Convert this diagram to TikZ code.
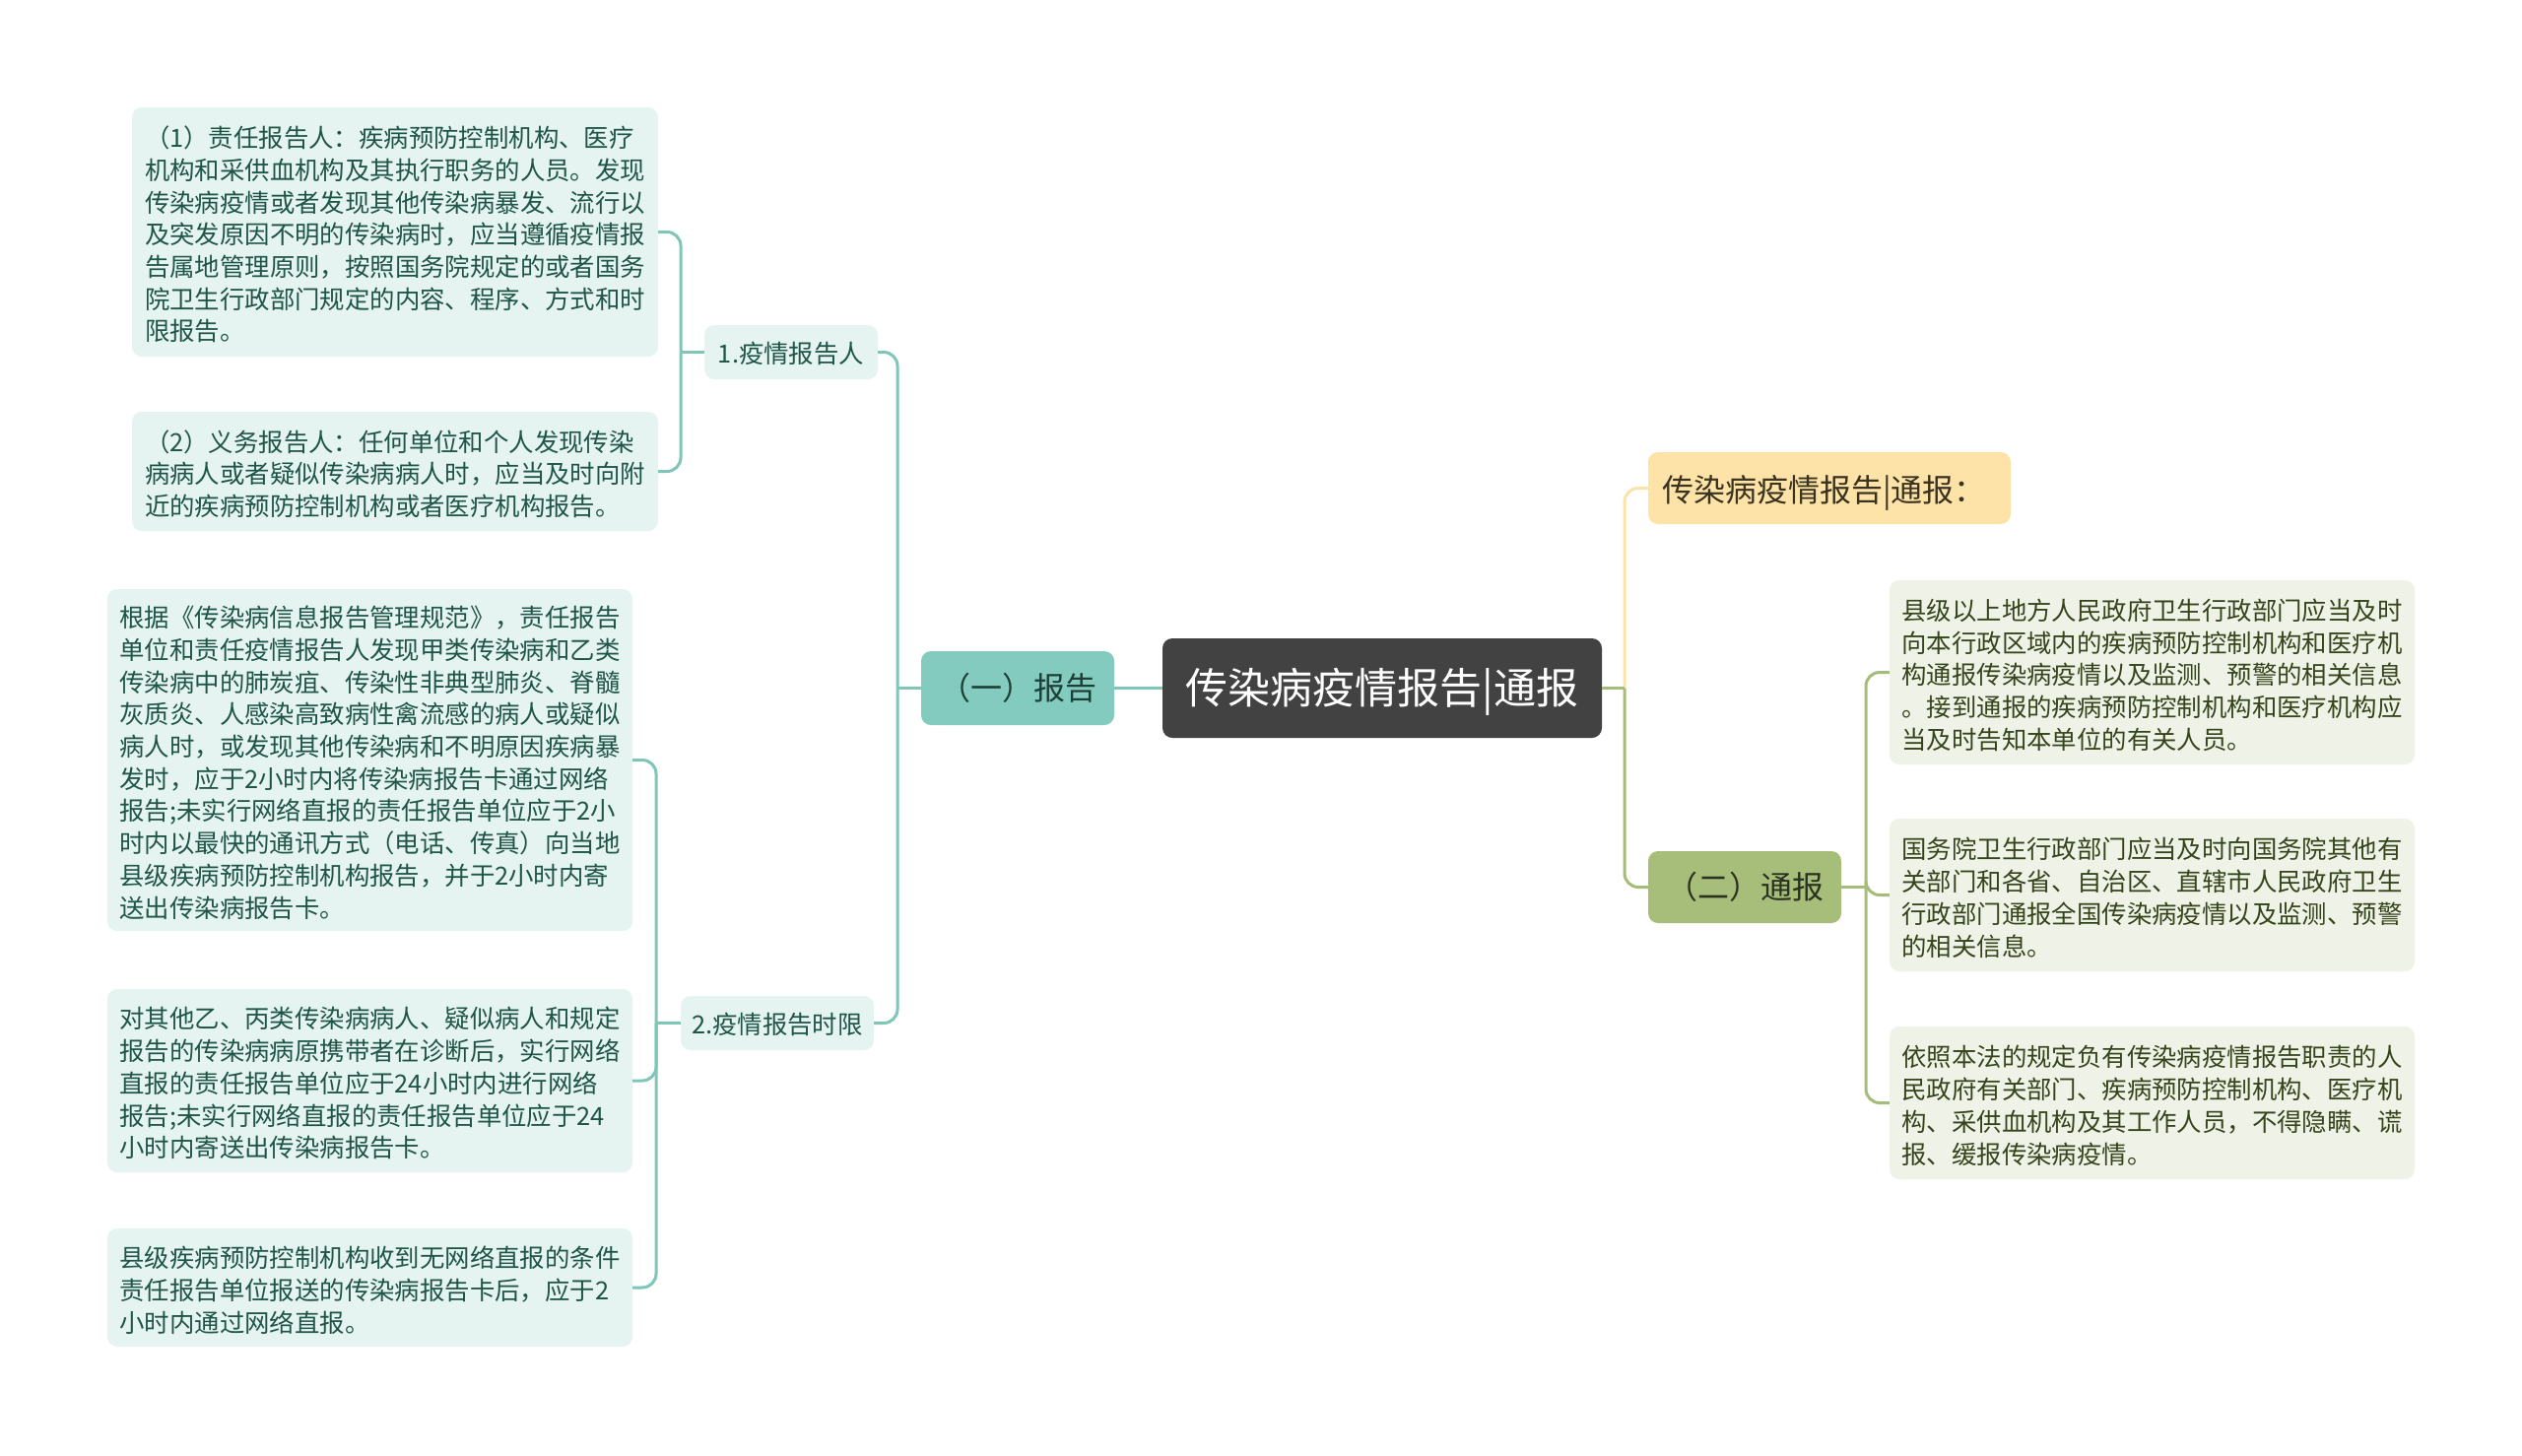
\documentclass[tikz,border=0pt]{standalone}
\usepackage{fontspec}
\setmainfont{Noto Sans CJK SC}
\usetikzlibrary{calc}
\definecolor{tealline}{HTML}{7FC6B8}
\definecolor{leafLfill}{HTML}{E5F4F0}
\definecolor{leafLtext}{HTML}{1F5548}
\definecolor{bOnefill}{HTML}{82CBBE}
\definecolor{bOnetext}{HTML}{1E3F38}
\definecolor{rootfill}{HTML}{424242}
\definecolor{headfill}{HTML}{FDE3A7}
\definecolor{headtext}{HTML}{3A3320}
\definecolor{yelline}{HTML}{FCE3AA}
\definecolor{bTwofill}{HTML}{A6BE7A}
\definecolor{bTwotext}{HTML}{2B3320}
\definecolor{leafRfill}{HTML}{EFF2E6}
\definecolor{leafRtext}{HTML}{36441C}
\definecolor{greenline}{HTML}{A5BD78}
\newcommand\lup{\rule{0pt}{27pt}}
\begin{document}
\begin{tikzpicture}[x=1pt,y=-1pt,
  leafL/.style={fill=leafLfill, rounded corners=10pt, text=leafLtext,
    font=\fontsize{25.4}{32.7}\selectfont, align=left, inner xsep=12pt, inner ysep=0pt, minimum width=534pt},
  leafR/.style={fill=leafRfill, rounded corners=10pt, text=leafRtext,
    font=\fontsize{25.4}{32.7}\selectfont, align=left, inner xsep=12pt, inner ysep=0pt, minimum width=533pt},
  subL/.style={fill=leafLfill, rounded corners=10pt, text=leafLtext,
    font=\fontsize{25.4}{30}\selectfont, inner sep=0pt, minimum height=55pt},
  mainbox/.style={rounded corners=10pt, font=\fontsize{32}{36}\selectfont, inner sep=0pt, minimum height=75pt, minimum width=196pt},
  lineT/.style={draw=tealline, line width=3pt},
  lineG/.style={draw=greenline, line width=3pt},
  lineY/.style={draw=yelline, line width=3pt},
  rc/.style={rounded corners=14pt}
]
\useasboundingbox[fill=white] (0,0) rectangle (2560,1478);

% root
\node[fill=rootfill, rounded corners=10pt, text=white, font=\fontsize{43}{48}\selectfont,
  minimum width=446pt, minimum height=101pt, inner sep=0pt] (root) at (1403,698.5) {\rule{0pt}{44pt}传染病疫情报告|通报};

% left branch
\node[mainbox, fill=bOnefill, text=bOnetext] (B1) at (1033,698.5) {（一）报告};
\node[subL, minimum width=176pt] (N1) at (803,357.5) {\rule{0pt}{24pt}1.疫情报告人};
\node[subL, minimum width=196pt] (N2) at (789,1038.5) {\rule{0pt}{24pt}2.疫情报告时限};

\node[leafL, minimum height=253pt] (L1) at (401,235.5) {\lup（1）责任报告人：疾病预防控制机构、医疗\\机构和采供血机构及其执行职务的人员。发现\\传染病疫情或者发现其他传染病暴发、流行以\\及突发原因不明的传染病时，应当遵循疫情报\\告属地管理原则，按照国务院规定的或者国务\\院卫生行政部门规定的内容、程序、方式和时\\限报告。};
\node[leafL, minimum height=121pt] (L2) at (401,478.5) {\lup（2）义务报告人：任何单位和个人发现传染\\病病人或者疑似传染病病人时，应当及时向附\\近的疾病预防控制机构或者医疗机构报告。};
\node[leafL, minimum height=347pt, minimum width=533pt] (L3) at (375.5,771.5) {\lup 根据《传染病信息报告管理规范》，责任报告\\单位和责任疫情报告人发现甲类传染病和乙类\\传染病中的肺炭疽、传染性非典型肺炎、脊髓\\灰质炎、人感染高致病性禽流感的病人或疑似\\病人时，或发现其他传染病和不明原因疾病暴\\发时，应于2小时内将传染病报告卡通过网络\\报告;未实行网络直报的责任报告单位应于2小\\时内以最快的通讯方式（电话、传真）向当地\\县级疾病预防控制机构报告，并于2小时内寄\\送出传染病报告卡。};
\node[leafL, minimum height=186pt, minimum width=533pt] (L4) at (375.5,1097) {\lup 对其他乙、丙类传染病病人、疑似病人和规定\\报告的传染病病原携带者在诊断后，实行网络\\直报的责任报告单位应于24小时内进行网络\\报告;未实行网络直报的责任报告单位应于24\\小时内寄送出传染病报告卡。};
\node[leafL, minimum height=120pt, minimum width=533pt] (L5) at (375.5,1307) {\lup 县级疾病预防控制机构收到无网络直报的条件\\责任报告单位报送的传染病报告卡后，应于2\\小时内通过网络直报。};

% right branch
\node[mainbox, fill=headfill, text=headtext, minimum width=368pt, minimum height=73pt, align=left, text width=340pt] (H) at (1857,495.5) {\rule{0pt}{37pt}传染病疫情报告|通报：};
\node[mainbox, fill=bTwofill, text=bTwotext, minimum height=73pt] (B3) at (1771,900.5) {（二）通报};

\node[leafR, minimum height=187pt] (R1) at (2184.5,682.5) {\lup 县级以上地方人民政府卫生行政部门应当及时\\向本行政区域内的疾病预防控制机构和医疗机\\构通报传染病疫情以及监测、预警的相关信息\\。接到通报的疾病预防控制机构和医疗机构应\\当及时告知本单位的有关人员。};
\node[leafR, minimum height=155pt] (R2) at (2184.5,908.5) {\lup 国务院卫生行政部门应当及时向国务院其他有\\关部门和各省、自治区、直辖市人民政府卫生\\行政部门通报全国传染病疫情以及监测、预警\\的相关信息。};
\node[leafR, minimum height=155pt] (R3) at (2184.5,1119.5) {\lup 依照本法的规定负有传染病疫情报告职责的人\\民政府有关部门、疾病预防控制机构、医疗机\\构、采供血机构及其工作人员，不得隐瞒、谎\\报、缓报传染病疫情。};

% junctions
\coordinate (jB1) at (911,698.5);
\coordinate (jN1) at (691,357.5);
\coordinate (jN2) at (666,1038.5);
\coordinate (jR) at (1649,698.5);
\coordinate (jB3) at (1894,900.5);

% connectors left
\draw[lineT] (root.west) -- (B1.east);
\draw[lineT] (B1.west) -- (jB1);
\draw[lineT, rc] (jB1) |- (N1.east);
\draw[lineT, rc] (jB1) |- (N2.east);
\draw[lineT] (N1.west) -- (jN1);
\draw[lineT, rc] (jN1) |- (L1.east);
\draw[lineT, rc] (jN1) |- (L2.east);
\draw[lineT] (N2.west) -- (jN2);
\draw[lineT, rc] (jN2) |- (L3.east);
\draw[lineT, rc] (jN2) |- (L4.east);
\draw[lineT, rc] (jN2) |- (L5.east);

% connectors right
\draw[lineY, rc] (jR) |- (H.west);
\draw[lineG] (root.east) -- (jR);
\draw[lineG, rc] (jR) |- (B3.west);
\draw[lineG] (B3.east) -- (jB3);
\draw[lineG, rc] (jB3) |- (R1.west);
\draw[lineG, rc] (jB3) |- (R2.west);
\draw[lineG, rc] (jB3) |- (R3.west);
\end{tikzpicture}
\end{document}
